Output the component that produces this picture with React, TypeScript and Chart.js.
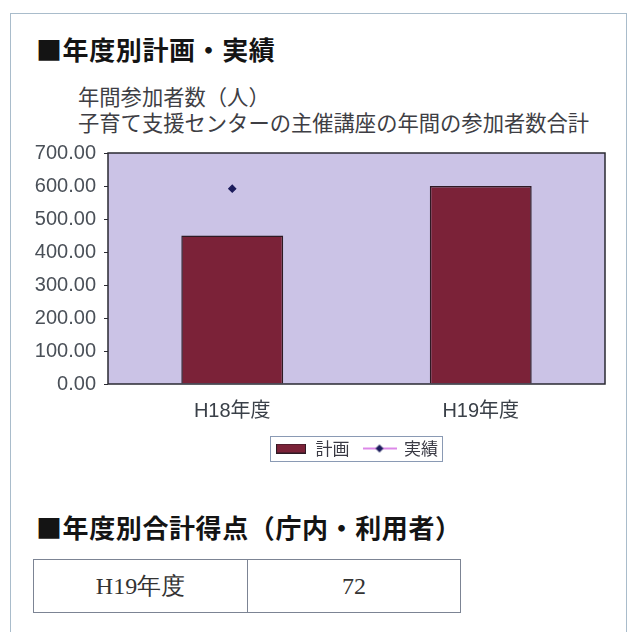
import React, { useEffect, useRef } from "react";
import { Chart, registerables } from "chart.js";

Chart.register(...registerables);

const categories = ["H18年度", "H19年度"];
const planValues = [450, 600];
const actualValues: (number | null)[] = [592, null];
const yTicks = [0, 100, 200, 300, 400, 500, 600, 700];
const seriesNames = ["計画", "実績"];
const scoreYear = "H19年度";
const scoreValue = "72";

const PLOT_BG = "#cbc3e6";
const BAR_COLOR = "#7b2238";
const BAR_BORDER = "#2e1a24";
const POINT_COLOR = "#1c1c5c";
const LINE_COLOR = "#d060e0";
const SANS = '"Liberation Sans", "Noto Sans CJK JP", sans-serif';
const CJK = '"Noto Sans CJK JP", sans-serif';

function makeBarSwatch(): HTMLCanvasElement {
  const c = document.createElement("canvas");
  c.width = 30;
  c.height = 10;
  const ctx = c.getContext("2d")!;
  ctx.fillStyle = BAR_COLOR;
  ctx.fillRect(0, 0, 30, 10);
  ctx.strokeStyle = BAR_BORDER;
  ctx.lineWidth = 1;
  ctx.strokeRect(0.5, 0.5, 29, 9);
  return c;
}

function makeLineSwatch(): HTMLCanvasElement {
  const c = document.createElement("canvas");
  c.width = 34;
  c.height = 10;
  const ctx = c.getContext("2d")!;
  ctx.strokeStyle = LINE_COLOR;
  ctx.lineWidth = 1.5;
  ctx.beginPath();
  ctx.moveTo(0, 5);
  ctx.lineTo(34, 5);
  ctx.stroke();
  ctx.fillStyle = POINT_COLOR;
  ctx.beginPath();
  ctx.moveTo(17, 1);
  ctx.lineTo(21, 5);
  ctx.lineTo(17, 9);
  ctx.lineTo(13, 5);
  ctx.closePath();
  ctx.fill();
  return c;
}

const plotFramePlugin = {
  id: "plotFrame",
  beforeDatasetsDraw(chart: any) {
    const { ctx, chartArea } = chart;
    ctx.save();
    ctx.fillStyle = PLOT_BG;
    ctx.fillRect(chartArea.left, chartArea.top, chartArea.right - chartArea.left, chartArea.bottom - chartArea.top);
    ctx.restore();
  },
  afterDatasetsDraw(chart: any) {
    const { ctx, chartArea } = chart;
    ctx.save();
    ctx.strokeStyle = "#2a2a32";
    ctx.lineWidth = 1.5;
    ctx.strokeRect(chartArea.left, chartArea.top, chartArea.right - chartArea.left, chartArea.bottom - chartArea.top);
    ctx.restore();
  },
  afterDraw(chart: any) {
    const boxes = chart.legend && chart.legend.legendHitBoxes;
    if (!boxes || !boxes.length) return;
    let l = Infinity, t = Infinity, r = -Infinity, b = -Infinity;
    for (const h of boxes) {
      l = Math.min(l, h.left);
      t = Math.min(t, h.top);
      r = Math.max(r, h.left + h.width);
      b = Math.max(b, h.top + h.height);
    }
    const { ctx } = chart;
    ctx.save();
    ctx.strokeStyle = "#8a9ab4";
    ctx.lineWidth = 1;
    ctx.strokeRect(Math.round(l - 5) + 0.5, Math.round(t - 4) + 0.5, Math.round(r - l + 9), Math.round(b - t + 8));
    ctx.restore();
  },
};

function BarChart() {
  const ref = useRef<HTMLCanvasElement | null>(null);
  useEffect(() => {
    if (!ref.current) return;
    const barSwatch = makeBarSwatch();
    const lineSwatch = makeLineSwatch();
    const chart = new Chart(ref.current, {
      type: "bar",
      data: {
        labels: categories,
        datasets: [
          {
            type: "bar",
            label: seriesNames[0],
            data: planValues,
            backgroundColor: BAR_COLOR,
            borderColor: BAR_BORDER,
            borderWidth: 1.5,
            categoryPercentage: 1,
            barPercentage: 0.41,
            order: 2,
          } as any,
          {
            type: "line",
            label: seriesNames[1],
            data: actualValues,
            borderColor: LINE_COLOR,
            borderWidth: 1.2,
            pointStyle: "rectRot",
            pointRadius: 3.5,
            pointBackgroundColor: POINT_COLOR,
            pointBorderColor: POINT_COLOR,
            order: 1,
          } as any,
        ],
      },
      options: {
        responsive: false,
        animation: false,
        events: [],
        layout: { padding: { top: 23, left: 0, right: 17, bottom: 8 } },
        plugins: {
          tooltip: { enabled: false },
          title: { display: false },
          legend: {
            display: true,
            position: "bottom",
            fullSize: false,
            labels: {
              usePointStyle: true,
              pointStyleWidth: 32,
              padding: 14,
              color: "#3a3a44",
              font: { family: CJK, size: 17 },
              generateLabels: () => [
                { text: seriesNames[0], pointStyle: barSwatch, fillStyle: BAR_COLOR, strokeStyle: BAR_BORDER, lineWidth: 0, hidden: false, datasetIndex: 0, fontColor: "#3a3a44" } as any,
                { text: seriesNames[1], pointStyle: lineSwatch, fillStyle: POINT_COLOR, strokeStyle: POINT_COLOR, lineWidth: 0, hidden: false, datasetIndex: 1, fontColor: "#3a3a44" } as any,
              ],
            },
          },
        },
        scales: {
          x: {
            grid: { display: false, drawTicks: false },
            border: { display: false },
            ticks: { color: "#3a4048", padding: 15, font: { family: SANS, size: 20 } },
            afterFit: (s: any) => {
              s.height = 42;
            },
          },
          y: {
            min: 0,
            max: 700,
            afterBuildTicks: (s: any) => {
              s.ticks = yTicks.map((v) => ({ value: v }));
            },
            grid: { drawOnChartArea: false, drawTicks: true, tickLength: 4, color: "#2a2a32" },
            border: { display: false },
            ticks: {
              color: "#4a5058",
              padding: 8,
              font: { family: SANS, size: 20 },
              callback: (v: any) => Number(v).toFixed(2),
            },
            afterFit: (s: any) => {
              s.width = 98;
            },
          },
        },
      },
      plugins: [plotFramePlugin],
    } as any);
    return () => chart.destroy();
  }, []);
  return <canvas ref={ref} width={612} height={345} style={{ position: "absolute", left: 10, top: 130, display: "block" }} />;
}

const titleStyle: React.CSSProperties = {
  position: "absolute",
  left: 36,
  fontSize: 26,
  lineHeight: "26px",
  fontWeight: 700,
  color: "#141414",
  whiteSpace: "nowrap",
  letterSpacing: "0.6px",
};

export default function App() {
  return (
    <div style={{ position: "absolute", left: 0, top: 0, width: 633, height: 632, background: "#fff", overflow: "hidden", fontFamily: CJK }}>
      <div style={{ position: "absolute", left: 10, top: 13, width: 615, height: 640, border: "1px solid #a9bccb", borderBottom: "none" }} />
      <div style={{ ...titleStyle, top: 36 }}>■年度別計画・実績</div>
      <div style={{ position: "absolute", left: 78, top: 83, fontSize: 21.3, lineHeight: "26px", color: "#3e3e44", whiteSpace: "nowrap" }}>
        <div>年間参加者数（人）</div>
        <div>子育て支援センターの主催講座の年間の参加者数合計</div>
      </div>
      <BarChart />
      <div style={{ ...titleStyle, top: 514 }}>■年度別合計得点（庁内・利用者）</div>
      <div style={{ position: "absolute", left: 33, top: 559, width: 428, height: 54, border: "1px solid #7c8494", boxSizing: "border-box", display: "flex", fontFamily: '"Liberation Serif", serif', fontSize: 24, color: "#333" }}>
        <div style={{ width: 213, borderRight: "1px solid #7c8494", display: "flex", alignItems: "center", justifyContent: "center" }}>{scoreYear}</div>
        <div style={{ flex: 1, display: "flex", alignItems: "center", justifyContent: "center" }}>{scoreValue}</div>
      </div>
    </div>
  );
}
